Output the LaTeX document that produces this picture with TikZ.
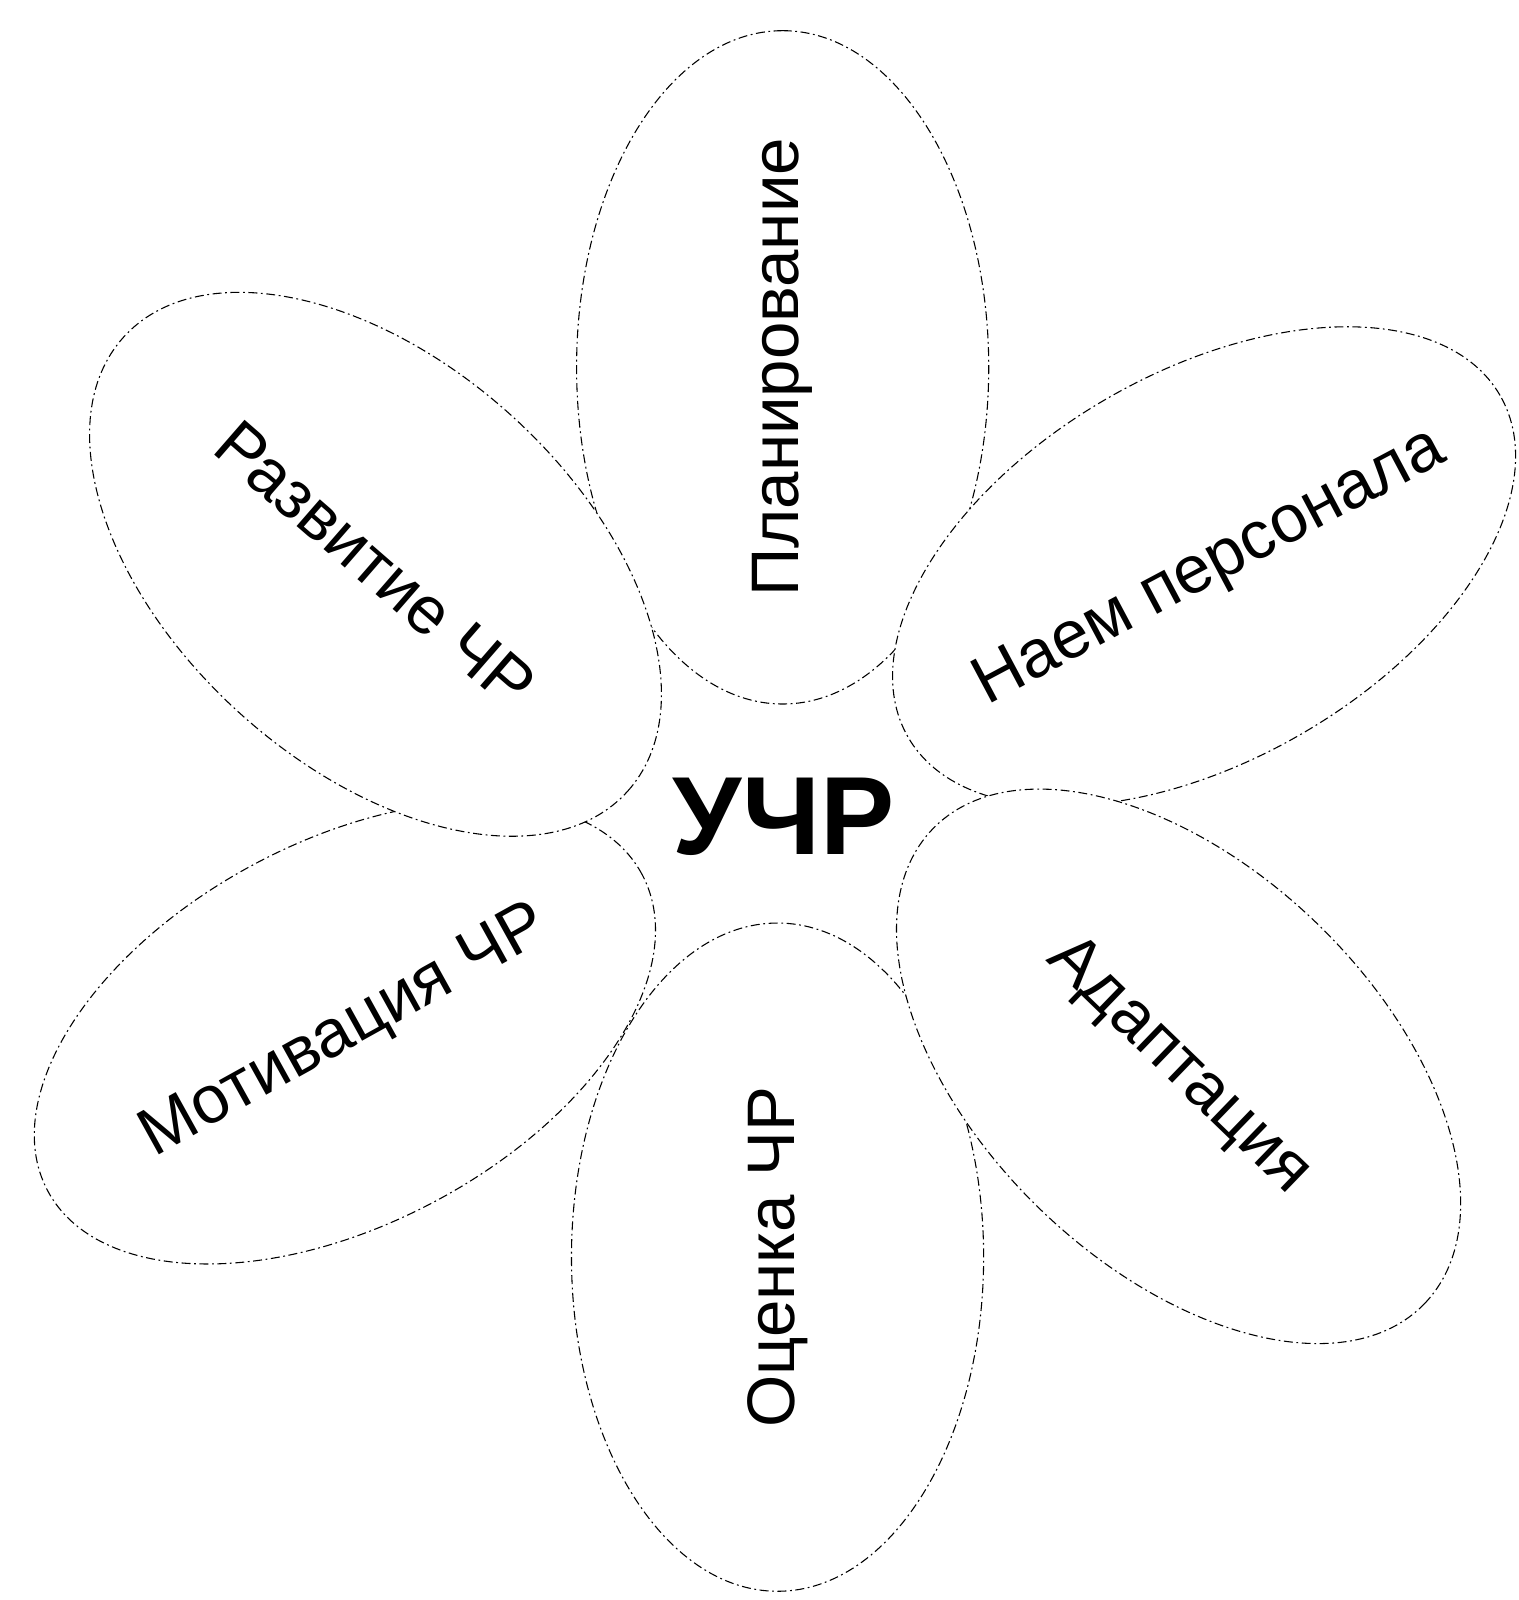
\documentclass[tikz,border=0pt]{standalone}
\usepackage{fontspec}
\setmainfont{Liberation Sans}
\usetikzlibrary{shapes.geometric}
\tikzset{
  petal/.style={ellipse, draw=black, fill=white, line width=0.6pt,
    dash pattern=on 5pt off 2pt on 1pt off 2pt, inner sep=0pt},
  ptext/.style={inner sep=0pt, font=\fontsize{37.5}{44}\selectfont},
  centre/.style={inner sep=0pt, font=\fontsize{62}{70}\selectfont\bfseries}
}
\begin{document}
\begin{tikzpicture}[x=0.02cm,y=-0.02cm]
\useasboundingbox (0,0) rectangle (1488,1568);
\node[petal, minimum width=13.2cm, minimum height=8.08cm, rotate=90] (plan) at (767,360) {};
\node[ptext, rotate=90] (planT) at (plan) {Планирование};
\node[petal, minimum width=13.1cm, minimum height=8.08cm, rotate=90] (otsenka) at (762,1232) {};
\node[ptext, rotate=90] (otsenkaT) at (otsenka) {Оценка ЧР};
\node[petal, minimum width=13.4cm, minimum height=7.6cm, rotate=30] (naem) at (1180,555) {};
\node[ptext, rotate=28] (naemT) at (1186,557) {Наем персонала};
\node[petal, minimum width=13.4cm, minimum height=7.8cm, rotate=-44] (adapt) at (1155,1045) {};
\node[ptext, rotate=-44] (adaptT) at (adapt) {Адаптация};
\node[petal, minimum width=13.2cm, minimum height=7.5cm, rotate=28] (motiv) at (338,1012) {};
\node[ptext, rotate=29] (motivT) at (motiv) {Мотивация ЧР};
\node[petal, minimum width=13.3cm, minimum height=7.9cm, rotate=-42] (razv) at (368,553) {};
\node[ptext, rotate=-41] (razvT) at (razv) {Развитие ЧР};
\node[centre] (uchr) at (768,800) {УЧР};
\end{tikzpicture}
\end{document}
